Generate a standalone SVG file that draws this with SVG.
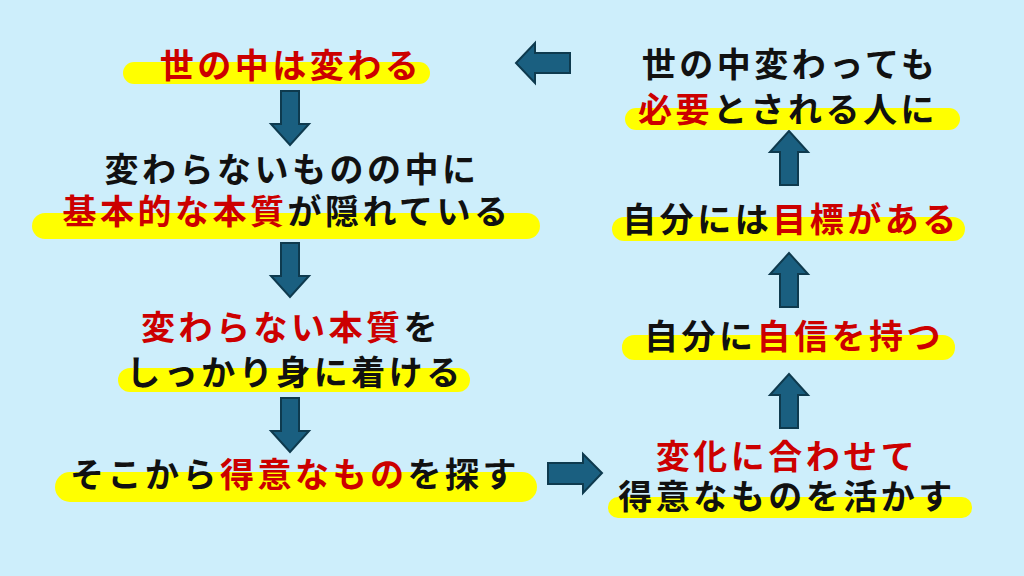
<svg xmlns="http://www.w3.org/2000/svg" width="1024" height="576" viewBox="0 0 1024 576">
<defs>
<style>
.t{font-family:"Noto Sans CJK JP","Noto Sans",sans-serif;font-weight:bold;font-size:34px;letter-spacing:3.5px;text-anchor:middle;fill:#111}
.r{fill:#cc0000}
.hl{fill:#ffff00}
.ar{fill:#1a5f80;stroke:#0e3a4e;stroke-width:2;stroke-linejoin:miter}
</style>
<path id="down" d="M-9,0 H9 V33 H19 L0,54 L-19,33 H-9 Z"/>
</defs>
<rect width="1024" height="576" fill="#cdeefb"/>
<g id="connectors">
<use href="#down" class="ar" transform="translate(290,91)"/>
<use href="#down" class="ar" transform="translate(290,243)"/>
<use href="#down" class="ar" transform="translate(290,398)"/>
<path class="ar" d="M548,463 H583 V454 L602,473 L583,493 V484 H548 Z"/>
<use href="#down" class="ar" transform="translate(789,428) rotate(180)"/>
<use href="#down" class="ar" transform="translate(789,307) rotate(180)"/>
<use href="#down" class="ar" transform="translate(789,185) rotate(180)"/>
<path class="ar" d="M570,53 H535 V43 L516,63 L535,83 V73 H570 Z"/>
</g>
<g id="n1">
<rect class="hl" x="123" y="62" width="307" height="22" rx="11"/>
<text class="t r" x="291" y="78">世の中は変わる</text>
</g>
<g id="n2">
<rect class="hl" x="32" y="213" width="508" height="26" rx="13"/>
<text class="t" x="292" y="182">変わらないものの中に</text>
<text class="t" x="287" y="224"><tspan class="r">基本的な本質</tspan>が隠れている</text>
</g>
<g id="n3">
<rect class="hl" x="118" y="368" width="352" height="24" rx="12"/>
<text class="t" x="291" y="340"><tspan class="r">変わらない本質</tspan>を</text>
<text class="t" x="295" y="385">しっかり身に着ける</text>
</g>
<g id="n4">
<rect class="hl" x="55" y="472" width="482" height="30" rx="15"/>
<text class="t" x="295" y="487">そこから<tspan class="r">得意なもの</tspan>を探す</text>
</g>
<g id="n5">
<rect class="hl" x="608" y="497" width="364" height="21" rx="10"/>
<text class="t r" x="787" y="469">変化に合わせて</text>
<text class="t" x="787" y="509">得意なものを活かす</text>
</g>
<g id="n6">
<rect class="hl" x="622" y="335" width="333" height="25" rx="12"/>
<text class="t" x="794" y="349">自分に<tspan class="r">自信を持つ</tspan></text>
</g>
<g id="n7">
<rect class="hl" x="612" y="217" width="353" height="24" rx="12"/>
<text class="t" x="791" y="232">自分には<tspan class="r">目標がある</tspan></text>
</g>
<g id="n8">
<rect class="hl" x="625" y="108" width="335" height="22" rx="11"/>
<text class="t" x="790" y="77">世の中変わっても</text>
<text class="t" x="788" y="122"><tspan class="r">必要</tspan>とされる人に</text>
</g>
</svg>
